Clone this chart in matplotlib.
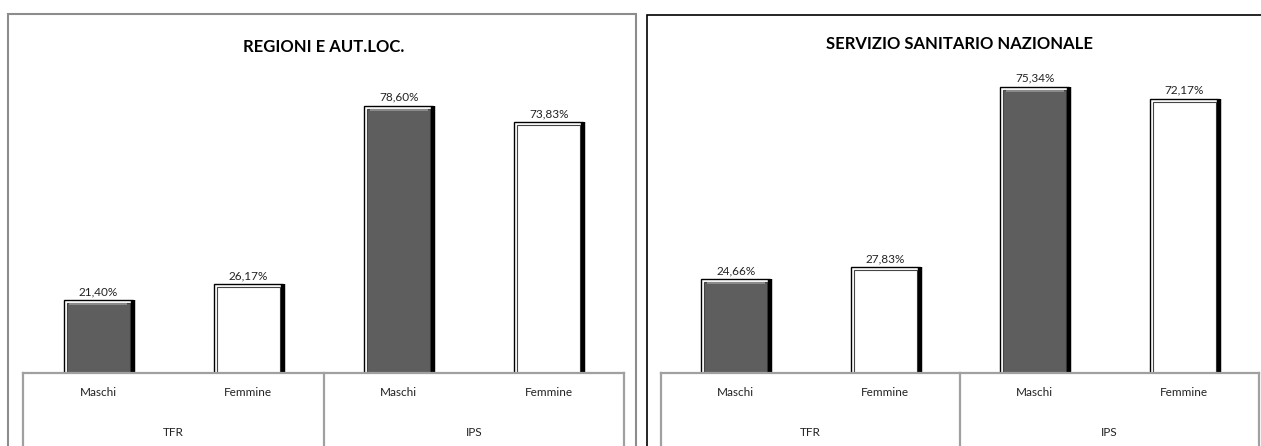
import matplotlib
matplotlib.use("Agg")
import matplotlib.pyplot as plt
from matplotlib.patches import Rectangle

plt.rcParams['font.family'] = ['Lato', 'DejaVu Sans']

# data
categories = ['Maschi', 'Femmine', 'Maschi', 'Femmine']
groups = ['TFR', 'IPS']
titles = ['REGIONI E AUT.LOC.', 'SERVIZIO SANITARIO NAZIONALE']
regioni = [21.40, 26.17, 78.60, 73.83]
ssn = [24.66, 27.83, 75.34, 72.17]
bar_colors = ['#5e5e5e', 'white', '#5e5e5e', 'white']

W, H = 1261, 446
fig = plt.figure(figsize=(W / 100, H / 100), dpi=100)


def px_box(x0, x1, y_top, y_bot):
    # pixel box (from top-left) -> figure fraction [l, b, w, h]
    return [x0 / W, (H - y_bot) / H, (x1 - x0) / W, (y_bot - y_top) / H]


def draw_panel(ax, values, title, ymax, title_y):
    ax.set_xlim(-0.5, 3.5)
    ax.set_ylim(0, ymax)
    for s in ax.spines.values():
        s.set_visible(False)
    ax.set_xticks([])
    ax.set_yticks([])
    ax.patch.set_alpha(0)

    # pixel size in data units, for the small insets
    px_y = ymax / (ax.get_position().height * H)
    px_x = 4.0 / (ax.get_position().width * W)

    x = range(len(values))
    outer_w = 0.46
    inner_w = outer_w - 2 * 3 * px_x
    ax.bar(x, values, width=outer_w, color='white', edgecolor='black', linewidth=1.0, zorder=2)
    ax.bar(x, [v - 3 * px_y for v in values], width=inner_w, color=bar_colors,
           edgecolor='#444444', linewidth=0.8, zorder=3)
    for xi, v, c in zip(x, values, bar_colors):
        ax.vlines(xi + outer_w / 2, 0, v, color='black', linewidth=3.2, zorder=4)
        if c != 'white':
            # light strip at the top of the dark bars
            ax.bar(xi, 2 * px_y, bottom=v - 5 * px_y, width=inner_w * 0.92,
                   color='#8a8a8a', linewidth=0, zorder=3)
        ax.annotate(f"{v:.2f}%".replace('.', ','), (xi, v), xytext=(0, 3),
                    textcoords='offset pixels', ha='center', va='bottom',
                    fontsize=8.5, color='#222222')

    # category table below the axis
    tr = ax.get_xaxis_transform()
    low = -80 / (ax.get_position().height * H)
    ax.plot([-0.5, 3.5], [0, 0], color='#a0a0a0', lw=1.6, transform=tr, clip_on=False, zorder=5)
    for xl in [-0.5, 1.5, 3.5]:
        ax.plot([xl, xl], [0, low], color='#a0a0a0', lw=1.6, transform=tr, clip_on=False)
    for xi, cat in zip(x, categories):
        ax.annotate(cat, (xi, 0), xycoords=tr, xytext=(0, -20), textcoords='offset pixels',
                    ha='center', va='center', fontsize=8.5, color='#222222')
    for gi, g in enumerate(groups):
        ax.annotate(g, (2 * gi + 0.5, 0), xycoords=tr, xytext=(0, -59), textcoords='offset pixels',
                    ha='center', va='center', fontsize=8.5, color='#222222')

    cx = (ax.get_position().x0 + ax.get_position().x1) / 2
    fig.text(cx, 1 - title_y / H, title, ha='center', va='center',
             fontsize=12, fontweight='bold', color='black')


# panel frames
fig.patches.append(Rectangle((8 / W, -0.05), (636 - 8) / W, (H - 14) / H + 0.05,
                             transform=fig.transFigure, fill=False,
                             edgecolor='#8c8c8c', lw=1.5))
fig.patches.append(Rectangle((647 / W, -0.05), 0.6, (H - 15) / H + 0.05,
                             transform=fig.transFigure, fill=False,
                             edgecolor='black', lw=1.2))

ax1 = fig.add_axes(px_box(23, 624, 33, 373))
draw_panel(ax1, regioni, titles[0], 100, 47)

ax2 = fig.add_axes(px_box(661, 1259, 69, 373))
draw_panel(ax2, ssn, titles[1], 80, 44)

fig.savefig('out.png', dpi=100)
